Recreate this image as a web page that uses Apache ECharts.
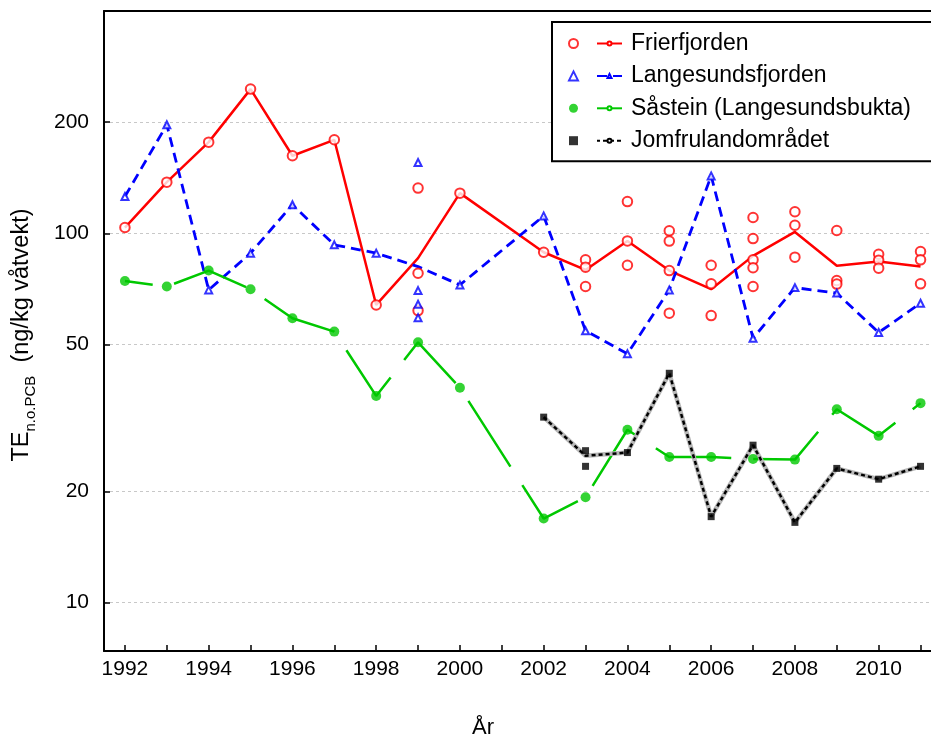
<!DOCTYPE html>
<html><head><meta charset="utf-8">
<script src="https://cdn.jsdelivr.net/npm/echarts@6/dist/echarts.min.js"></script>
<style>html,body{margin:0;padding:0;background:#fff}#c{width:931px;height:740px}</style>
</head><body><div id="c"></div>
<script>
// ---------- data ----------
const tickYears = [1992,1993,1994,1995,1996,1997,1998,1999,2000,2001,2002,2003,2004,2005,2006,2007,2008,2009,2010,2011];
const labelYears = [1992,1994,1996,1998,2000,2002,2004,2006,2008,2010];
const yTicks = [10,20,50,100,200];

// Frierfjorden
const frierLineYears  = [1992,1993,1994,1995,1996,1997,1998,1999,2000,2002,2003,2004,2005,2006,2007,2008,2009,2010,2011];
const frierLineValues = [103.7,137.6,176.6,245.8,162.2,179.2,64.0,85.7,128.5,88.9,79.6,95.4,79.3,70.6,86.9,100.9,81.7,83.9,81.3];
const frierPtYears  = [1992,1993,1994,1995,1996,1997,1998,1999,1999,1999,2000,2002,2003,2003,2003,2004,2004,2004,2005,2005,2005,2005,2006,2006,2006,2007,2007,2007,2007,2007,2008,2008,2008,2009,2009,2009,2010,2010,2010,2011,2011,2011];
const frierPtValues = [103.7,137.6,176.6,245.8,162.2,179.2,64.0,132.6,78.0,61.8,128.5,88.9,84.8,81.0,71.8,121.9,95.4,82.0,101.6,95.3,79.3,60.8,82.0,73.0,59.9,110.4,96.8,84.8,80.7,71.8,114.4,105.2,86.2,101.8,74.5,72.9,87.8,84.6,80.5,89.3,84.8,73.0];

// Langesundsfjorden
const langLineYears  = [1992,1993,1994,1995,1996,1997,1998,1999,2000,2002,2003,2004,2005,2006,2007,2008,2009,2010,2011];
const langLineValues = [125.8,196.8,70.3,88.4,119.5,93.1,88.4,81.3,72.5,111.5,54.5,47.2,70.3,143.1,52.0,71.3,68.9,53.9,64.7];
const langPtYears  = [1992,1993,1994,1995,1996,1997,1998,1999,1999,1999,1999,2000,2002,2003,2004,2005,2006,2007,2008,2009,2010,2011];
const langPtValues = [125.8,196.8,70.3,88.4,119.5,93.1,88.4,155.5,70.0,64.3,59.1,72.5,111.5,54.5,47.2,70.3,143.1,52.0,71.3,68.9,53.9,64.7];

// Såstein (Langesundsbukta)
const saaYears  = [1992,1993,1994,1995,1996,1997,1998,1999,2000,2002,2003,2004,2005,2006,2007,2008,2009,2010,2011];
const saaValues = [74.3,71.8,79.3,70.6,58.9,54.2,36.3,50.7,38.2,16.9,19.3,29.4,24.8,24.8,24.5,24.4,33.4,28.3,34.7];

// Jomfrulandområdet
const jomLineYears  = [2002,2003,2004,2005,2006,2007,2008,2009,2010,2011];
const jomLineValues = [31.8,25.0,25.5,41.8,17.1,26.7,16.5,23.1,21.6,23.4];
const jomPtYears  = [2002,2003,2003,2004,2005,2006,2007,2008,2009,2010,2011];
const jomPtValues = [31.8,25.8,23.4,25.5,41.8,17.1,26.7,16.5,23.1,21.6,23.4];

const names = ['Frierfjorden','Langesundsfjorden','Såstein (Langesundsbukta)','Jomfrulandområdet'];
const ptNames = ['Frierfjorden (prøver)','Langesundsfjorden (prøver)','Såstein (prøver)','Jomfrulandområdet (prøver)'];

// ---------- build ----------
const zip = (xs, ys) => xs.map((x, i) => [x, ys[i]]);
const FONT = "'Liberation Sans', Arial, sans-serif";
const RED = '#ff0000', BLUE = '#0000ff', GREEN = '#00c800', BLACK = '#000000';
const X_MIN = 1991.5, X_MAX = 2011.25;

const chart = echarts.init(document.getElementById('c'), null, {renderer: 'canvas'});
chart.setOption({
  animation: false,
  backgroundColor: '#ffffff',
  textStyle: {fontFamily: FONT},
  title: {
    text: 'År', left: 483, top: 717, textAlign: 'center', padding: 0,
    textStyle: {fontSize: 22, fontWeight: 'normal', color: '#000', fontFamily: FONT}
  },
  grid: {left: 104, top: 11, right: 0, bottom: 89, show: false},
  legend: [
    {
      data: names, orient: 'vertical', left: 552, top: 22,
      padding: [10, 80, 9, 44], itemGap: 9.4, itemWidth: 25, itemHeight: 5,
      borderColor: '#000', borderWidth: 2, backgroundColor: '#fff',
      selectedMode: false,
      textStyle: {fontSize: 23, lineHeight: 22, height: 22, color: '#000', fontFamily: FONT, padding: [0, 0, 0, 4]}
    },
    {
      data: ptNames, orient: 'vertical', left: 568, top: 32,
      padding: 0, itemGap: 9.4, itemWidth: 9, itemHeight: 9,
      selectedMode: false, z: 10,
      formatter: () => ' ',
      textStyle: {fontSize: 23, lineHeight: 22, height: 22, fontFamily: FONT}
    }
  ],
  xAxis: [
    {
      type: 'value', min: X_MIN, max: X_MAX,
      axisLine: {lineStyle: {color: '#000', width: 2}},
      axisTick: {inside: true, length: 6, lineStyle: {color: '#000', width: 1.5}, customValues: tickYears},
      axisLabel: {customValues: labelYears, fontSize: 21, color: '#000', margin: 8, fontFamily: FONT,
                  formatter: v => String(Math.round(v))},
      splitLine: {show: false}
    },
    {
      type: 'value', position: 'top', min: X_MIN, max: X_MAX,
      axisLine: {show: true, lineStyle: {color: '#000', width: 2}},
      axisTick: {show: false}, axisLabel: {show: false}, splitLine: {show: false}
    }
  ],
  yAxis: {
    type: 'log', logBase: 10, min: 7.4, max: 400,
    name: '{m|TE}{sub|n.o.PCB}{m|  (ng/kg våtvekt)}',
    nameLocation: 'middle', nameRotate: 90, nameGap: 66,
    nameTextStyle: {
      color: '#000', fontFamily: FONT, padding: [0, 8, 0, 0],
      rich: {
        m: {fontSize: 23.5, lineHeight: 23, verticalAlign: 'top', color: '#000', fontFamily: FONT},
        sub: {fontSize: 15, lineHeight: 28, verticalAlign: 'bottom', color: '#000', fontFamily: FONT}
      }
    },
    axisLine: {show: true, lineStyle: {color: '#000', width: 2}},
    axisTick: {inside: true, length: 6, lineStyle: {color: '#000', width: 1.5}, customValues: yTicks},
    axisLabel: {customValues: yTicks, fontSize: 21, color: '#000', margin: 15, fontFamily: FONT},
    splitLine: {show: true, lineStyle: {color: '#c8c8c8', width: 1, type: [3, 3]}}
  },
  series: [
    {name: names[0], type: 'line', data: zip(frierLineYears, frierLineValues),
     symbol: 'emptyCircle', symbolSize: 4, showSymbol: false, itemStyle: {color: RED},
     lineStyle: {color: RED, width: 2.5}, z: 2},
    {name: names[1], type: 'line', data: zip(langLineYears, langLineValues),
     symbol: 'emptyTriangle', symbolSize: 5, showSymbol: false, itemStyle: {color: BLUE},
     lineStyle: {color: BLUE, width: 2.8, type: [10, 6]}, z: 2},
    {name: names[2], type: 'line', data: zip(saaYears, saaValues),
     symbol: 'emptyCircle', symbolSize: 4, showSymbol: false, itemStyle: {color: GREEN},
     lineStyle: {color: GREEN, width: 2.5, type: [78, 22], dashOffset: 50}, z: 2},
    {name: 'jomBg', type: 'line', data: zip(jomLineYears, jomLineValues), silent: true,
     symbol: 'none', lineStyle: {color: '#b8b8b8', width: 4.5}, z: 2},
    {name: names[3], type: 'line', data: zip(jomLineYears, jomLineValues),
     symbol: 'emptyCircle', symbolSize: 3, showSymbol: false, itemStyle: {color: BLACK},
     lineStyle: {color: BLACK, width: 2.5, type: [4, 3]}, z: 2},
    {name: ptNames[0], type: 'scatter', data: zip(frierPtYears, frierPtValues),
     symbol: 'emptyCircle', symbolSize: 9.5, itemStyle: {color: RED, borderColor: RED, borderWidth: 1.2}, z: 3},
    {name: ptNames[1], type: 'scatter', data: zip(langPtYears, langPtValues),
     symbol: 'emptyTriangle', symbolSize: 7, itemStyle: {color: BLUE, borderColor: BLUE, borderWidth: 1.2}, z: 3},
    {name: ptNames[2], type: 'scatter', data: zip(saaYears, saaValues),
     symbol: 'circle', symbolSize: 10, itemStyle: {color: GREEN}, z: 3},
    {name: ptNames[3], type: 'scatter', data: zip(jomPtYears, jomPtValues),
     symbol: 'rect', symbolSize: 7, itemStyle: {color: BLACK}, z: 3}
  ]
});
</script>
</body></html>
